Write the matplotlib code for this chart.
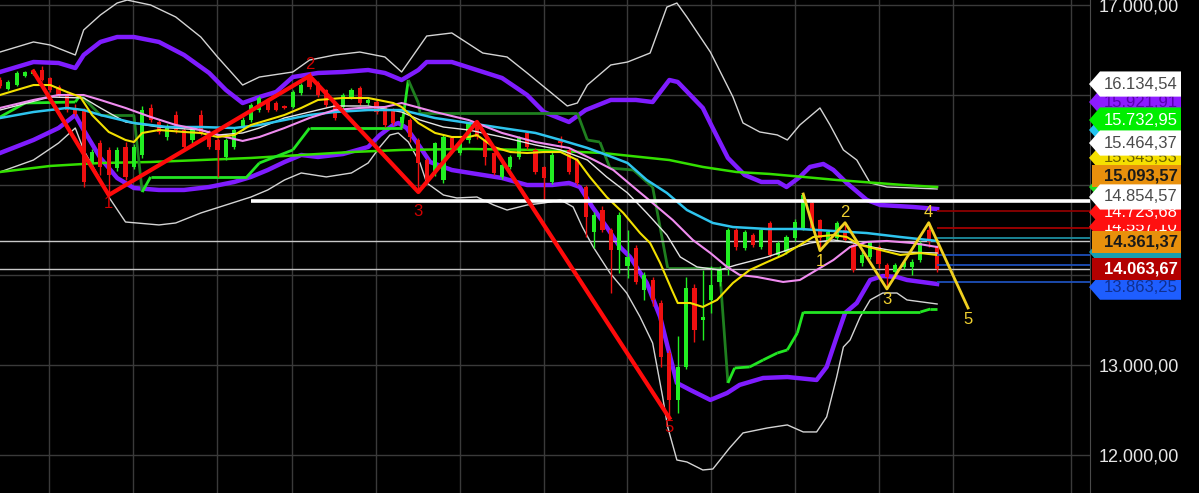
import matplotlib
matplotlib.use("Agg")
import matplotlib.pyplot as plt
import matplotlib.transforms as mtransforms
from matplotlib.patches import Polygon
from matplotlib.collections import LineCollection
from matplotlib.ticker import FuncFormatter

plt.rcParams["font.family"] = ["Liberation Sans", "DejaVu Sans"]

# daily candles, oldest first
opens = [16166, 16070, 16110, 16210, 16235, 16277, 16190, 16090, 16000, 15860,
         15832, 15243, 15465, 15388, 15190, 15420, 15199, 15332, 15855, 15700,
         15532, 15777, 15610, 15499, 15777, 15588, 15499, 15310, 15421, 15632,
         15721, 15832, 15944, 15910, 15877, 15866, 16021, 16210, 16133, 16055,
         15910, 15866, 15977, 16077, 15910, 15922, 15866, 15832, 15690, 15721,
         15499, 15276, 15143, 15054, 15521, 15355, 15499, 15688, 15499, 15355,
         15090, 15199, 15310, 15577, 15388, 15199, 15032, 15490, 15388, 15276,
         14976, 14476, 14720, 14498, 14276, 14100, 14298, 13831, 13942, 13686,
         13130, 12608, 12975, 13853, 13497, 13720, 13920, 14076, 14498, 14298,
         14442, 14309, 14576, 14220, 14253, 14409, 14520, 14798, 14609, 14387,
         14409, 14498, 14331, 14131, 14198, 14309, 14109, 14031, 14087, 14087,
         14164, 14498, 14309]
highs = [16200, 16170, 16265, 16270, 16290, 16320, 16200, 16110, 16020, 15900,
         15850, 15400, 15500, 15420, 15420, 15480, 15450, 15880, 15900, 15720,
         15680, 15820, 15640, 15630, 15830, 15610, 15520, 15520, 15640, 15750,
         15910, 15990, 15970, 15930, 15890, 16050, 16130, 16255, 16150, 16070,
         15930, 16020, 16080, 16100, 15970, 15940, 15880, 15850, 15780, 15740,
         15520, 15300, 15480, 15560, 15540, 15490, 15700, 15700, 15520, 15370,
         15240, 15330, 15540, 15600, 15410, 15210, 15360, 15540, 15410, 15300,
         15000, 14700, 14760, 14520, 14700, 14500, 14330, 14030, 13970, 13720,
         13160, 13320, 13975, 13900, 14053, 14100, 14100, 14520, 14520, 14500,
         14460, 14520, 14600, 14380, 14440, 14620, 14898, 14830, 14620, 14500,
         14600, 14579, 14350, 14260, 14380, 14330, 14130, 14130, 14160, 14170,
         14380, 14579, 14330]
lows = [16080, 16050, 16100, 16200, 16225, 16150, 16030, 15980, 15810, 15770,
        14980, 15200, 15110, 14887, 15150, 15050, 15180, 15300, 15700, 15560,
        15500, 15580, 15390, 15470, 15550, 15400, 15090, 15280, 15400, 15610,
        15700, 15810, 15810, 15820, 15840, 15850, 16000, 16070, 15980, 15870,
        15720, 15850, 15960, 15890, 15890, 15790, 15640, 15660, 15670, 15480,
        14920, 15020, 15100, 15020, 15390, 15330, 15470, 15510, 15220, 15110,
        15070, 15180, 15290, 15400, 15120, 14830, 15010, 15410, 15120, 15000,
        14420, 14300, 14480, 13800, 14020, 13960, 13900, 13720, 13650, 12975,
        12407, 12463, 12950, 13250, 13275, 13580, 13880, 14000, 14280, 14270,
        14310, 14290, 14200, 14200, 14230, 14380, 14500, 14500, 14268, 14370,
        14390, 14370, 14030, 14100, 14180, 14080, 13842, 13980, 14060, 14000,
        14140, 14310, 14030]
closes = [16100, 16145, 16245, 16255, 16265, 16166, 16055, 16000, 15832, 15790,
          15032, 15365, 15199, 15110, 15388, 15090, 15420, 15832, 15721, 15588,
          15643, 15610, 15421, 15610, 15577, 15421, 15388, 15499, 15610, 15721,
          15888, 15966, 15832, 15832, 15855, 16033, 16110, 16088, 15999, 15888,
          15744, 15999, 16055, 15910, 15944, 15810, 15666, 15688, 15760, 15532,
          15243, 15054, 15465, 15532, 15410, 15465, 15688, 15532, 15310, 15132,
          15221, 15310, 15521, 15421, 15143, 15077, 15332, 15470, 15143, 15020,
          14643, 14665, 14498, 14276, 14665, 14200, 13920, 13998, 13720, 13086,
          12608, 12975, 13853, 13386, 13525, 13886, 14053, 14498, 14309, 14476,
          14331, 14498, 14220, 14353, 14420, 14587, 14887, 14520, 14409, 14476,
          14576, 14387, 14053, 14220, 14365, 14120, 13975, 14109, 14142, 14142,
          14353, 14365, 14064]

# bollinger bands (outer, thin white) sampled from the chart: bar index, price
outer_up_x = [0, 4, 6, 9, 10, 12, 14, 15.2, 18, 21, 24, 26, 29, 31, 35, 37, 40, 43, 46, 48,
              51, 54, 57.7, 60.6, 63, 67.8, 69, 70.2, 73, 75, 77.7, 79.7, 80.9, 82.1,
              84.9, 87.6, 88.8, 90.8, 92.9, 94.1, 95.6, 98, 99.2, 100.8, 102.4, 104,
              106, 109.1, 112]
outer_up_y = [16477, 16589, 16555, 16444, 16722, 16889, 17022, 17055, 17000, 16867,
              16644, 16422, 16110, 16199, 16255, 16388, 16444, 16477, 16422, 16255,
              16655, 16689, 16466, 16422, 16244, 15877, 15910, 16110, 16333, 16366,
              16466, 16977, 17022, 16866, 16477, 15977, 15688, 15588, 15555, 15499,
              15666, 15855, 15666, 15388, 15276, 15021, 14976, 14965, 14954]
outer_dn_x = [0, 4, 7, 9, 10, 12, 13, 15, 19, 21, 24, 27, 30, 32, 34, 36, 39, 42, 44,
              45.4, 46.6, 47.6, 48.8, 50.2, 51, 53, 54.6, 57, 59, 60.6, 63, 65, 67,
              68.5, 69.6, 70.9, 72.9, 74.9, 76.5, 78, 79.2, 79.8, 80.9, 82.1, 84,
              85.2, 87.2, 88.8, 91.7, 94.1, 96, 97.6, 98.8, 100, 100.8, 101.6, 102.8,
              104, 105.5, 107.2, 108.4, 112]
outer_dn_y = [15143, 15276, 15465, 15632, 15388, 15054, 14865, 14587, 14554, 14576,
              14687, 14776, 14865, 14943, 15054, 15132, 15088, 15132, 15243, 15421,
              15554, 15577, 15477, 15243, 15021, 14887, 14854, 14865, 14776, 14720,
              14776, 14798, 14832, 14754, 14531, 14309, 14020, 13797, 13531, 13241,
              12641, 12307, 11940, 11918, 11829, 11840, 12074, 12241, 12296, 12330,
              12252, 12252, 12419, 12863, 13197, 13275, 13531, 13720, 13797, 13797,
              13720, 13675]

# inner bands (thick purple)
inner_up_x = [0, 4, 7, 9, 10, 12, 14, 16, 19, 22, 25, 27, 29, 31, 33, 35, 38, 41, 44,
              46, 48, 50, 51, 54, 57, 60, 63, 65, 68, 70, 73, 76, 78, 80, 81, 84, 85,
              87, 89, 91, 93, 94, 95.6, 96.8, 98.4, 99.6, 101.2, 103.6, 105.2, 109.1,
              112]
inner_up_y = [16255, 16366, 16355, 16299, 16444, 16589, 16644, 16644, 16589, 16444,
              16244, 16055, 15910, 15977, 16033, 16199, 16244, 16255, 16277, 16244,
              16166, 16277, 16366, 16366, 16277, 16188, 15999, 15810, 15699, 15832,
              15944, 15944, 15921, 16166, 16144, 15855, 15666, 15299, 15110, 15032,
              15032, 14976, 15088, 15199, 15232, 15166, 15021, 14832, 14776, 14754,
              14731]
inner_dn_x = [0, 4, 7, 9, 10, 12, 14, 16, 19, 22, 25, 28, 30, 32, 34, 36, 38, 41, 44,
              45.4, 47, 47.6, 48.6, 50.2, 51.4, 54, 56.2, 60, 63, 66, 68, 69.3, 70.8,
              72.5, 74.1, 75.3, 77.3, 78.9, 79.8, 80.9, 82.5, 84.9, 86.9, 88.4, 91.2,
              94.1, 97.6, 98.8, 100, 101, 102.4, 104, 105.5, 107.2, 108.4, 112]
inner_dn_y = [15354, 15499, 15632, 15777, 15610, 15299, 15076, 14965, 14943, 14943,
              14976, 15032, 15088, 15165, 15254, 15332, 15310, 15343, 15421, 15554,
              15666, 15688, 15632, 15421, 15254, 15165, 15132, 15076, 14998, 14998,
              15021, 14976, 14754, 14531, 14309, 14198, 13909, 13531, 13197, 12797,
              12719, 12608, 12685, 12775, 12852, 12863, 12830, 12975, 13308, 13575,
              13686, 13942, 13986, 13975, 13942, 13897]

# moving averages
ma_yellow_x = [0, 2, 4, 6, 8, 9.6, 11, 13, 15, 16, 17, 19, 22, 24, 26, 28, 30, 32, 34,
               36, 38, 41, 44, 47, 48, 50, 52, 54, 56, 57, 59, 61, 63, 65, 67, 69,
               70.5, 72.5, 74.5, 76.5, 77.7, 78.9, 80.3, 81, 82.5, 84, 85.7, 87.6,
               89.6, 91.7, 93.6, 95.6, 97.2, 99.6, 101.2, 102.8, 105.2, 107.6, 110, 112]
ma_yellow_y = [15999, 16055, 16110, 16110, 16033, 15977, 15777, 15588, 15499, 15476,
               15577, 15610, 15588, 15577, 15532, 15554, 15666, 15721, 15777, 15855,
               15944, 15966, 15966, 15910, 15866, 15688, 15577, 15532, 15532, 15554,
               15421, 15365, 15354, 15365, 15365, 15276, 15088, 14865, 14687, 14464,
               14353, 14131, 13831, 13686, 13686, 13642, 13720, 13909, 14053, 14142,
               14220, 14331, 14420, 14442, 14420, 14331, 14276, 14220, 14242, 14220]
ma_pink_x = [0, 4, 7, 10, 12, 15, 18, 21, 24, 27, 29, 31, 34, 37, 40, 43, 46, 48, 52,
             56, 60, 64, 68, 71, 73.3, 75.7, 78, 80.4, 82.8, 84.9, 86.9, 88.4, 90.5,
             93.6, 95.6, 97.6, 99.6, 101.6, 103.6, 106, 109.1, 112]
ma_pink_y = [15855, 15944, 15999, 15999, 15944, 15855, 15755, 15666, 15610, 15532,
             15488, 15532, 15632, 15744, 15832, 15855, 15866, 15910, 15810, 15721,
             15577, 15476, 15410, 15276, 15165, 14976, 14798, 14609, 14387, 14242,
             14087, 13998, 13975, 13920, 13942, 14053, 14164, 14309, 14365, 14376,
             14353, 14309]
ma_cyan_x = [0, 4, 8, 10, 12, 16, 20, 24, 28, 31, 34, 37, 40, 44, 48, 52, 56, 60, 64,
             67, 70.2, 72.5, 75, 77.3, 79.7, 82.1, 85.2, 87.6, 91.7, 95.6, 99.6,
             103.6, 107.6, 112]
ma_cyan_y = [15743, 15810, 15855, 15832, 15777, 15688, 15643, 15643, 15632, 15666,
             15721, 15777, 15810, 15832, 15832, 15743, 15688, 15632, 15577, 15499,
             15410, 15332, 15243, 15054, 14910, 14720, 14576, 14531, 14509, 14509,
             14487, 14464, 14420, 14376]
ma_white_x = [0, 6, 10, 12, 15, 19, 24, 26, 29, 31, 34, 37, 40, 44, 48, 50.2, 53, 56,
              60, 64, 67, 70.2, 72.5, 75, 77.3, 79.7, 81.3, 83.3, 86, 88, 91.7, 94.8,
              96.8, 99.6, 102, 104.8, 107.6, 112]
ma_white_y = [15832, 15977, 15966, 15855, 15699, 15643, 15610, 15554, 15577, 15632,
              15744, 15810, 15877, 15877, 15810, 15721, 15643, 15610, 15532, 15443,
              15388, 15276, 15088, 14910, 14687, 14442, 14198, 14087, 14053, 14109,
              14198, 14298, 14353, 14387, 14353, 14298, 14254, 14242]
ma_long_x = [0, 6, 12, 18, 24, 30, 36, 42, 48, 56, 64, 72, 80, 84, 88, 92, 96, 100, 108, 112]
ma_long_y = [15143, 15210, 15243, 15254, 15276, 15299, 15332, 15365, 15388, 15399,
             15388, 15354, 15276, 15199, 15143, 15121, 15088, 15054, 14998, 14976]

# trailing stop line, bright green while rising and dark green while falling
stop_x = [0, 3, 9, 9.6, 12, 16, 17, 18, 29.5, 31, 35, 37, 48, 48.8, 50, 50.2, 69, 70.2,
          71.7, 72.9, 75.7, 77.3, 78, 79.8, 86, 87, 87.8, 89.6, 91.2, 92.9, 94.1, 95.3,
          96, 110, 111.2, 112]
stop_y = [15754, 15910, 15921, 15999, 15777, 15777, 14920, 15088, 15088, 15243, 15388,
          15632, 15632, 16166, 15910, 15799, 15799, 15499, 15476, 15187, 15165, 15032,
          14976, 14075, 14075, 12797, 12963, 12975, 13052, 13130, 13164, 13353, 13586,
          13586, 13619, 13619]
stop_up = [1, 1, 1, 0, 0, 0, 1, 1, 1, 1, 1, 1, 1, 0, 0, 0, 0, 0, 0, 0, 0, 0, 0, 0, 0,
           1, 1, 1, 1, 1, 1, 1, 1, 1, 1]

# elliott wave counts (red label 4 is not shown on the chart)
red_wave_x = [4, 13, 37, 50, 57, 80]
red_wave_y = [16260, 14887, 16211, 14920, 15700, 12407]
red_lbl_y = [None, 14798, 16333, 14698, None, 12296]
yel_wave_x = [96, 98, 101, 106, 111, 115.7]
yel_wave_y = [14898, 14268, 14579, 13842, 14579, 13631]
yel_lbl_y = [None, 14142, 14687, 13720, 14687, 13497]

# horizontal levels
support_level = 14825
support_from = 30
thin_levels = [14376, 14064]
right_levels = [14709, 14520, 14409, 14220, 14109, 13920]
right_colors = ["#8b0000", "#a30000", "#1c8ea0", "#1d4fb8", "#1d4fb8", "#1d4fb8"]

# price tags on the right axis, bottom layer first (empty text = tag hidden under others)
tag_prices = [15921, 15610, 15300, 14976, 14535, 14695, 14253, 13862,
              16121, 15721, 15465, 15098, 14865, 14365, 14064]
tag_texts = ["15.921,91", "", "15.345,53", "", "14.557,10",
             "14.723,68", "", "13.863,25", "16.134,54", "15.732,95",
             "15.464,37", "15.093,57", "14.854,57", "14.361,37", "14.063,67"]
tag_fills = ["#8c1cff", "#22c4f0", "#f5e000", "#22dd22", "#ff1010", "#ff1010",
             "#1a9fb0", "#1e5eff", "#ffffff", "#00ee00", "#ffffff", "#e8900c",
             "#ffffff", "#e8900c", "#b30000"]
tag_inks = ["#5a00b0", "#10607a", "#6b6000", "#0a6a0a", "#ffffff", "#ffffff",
            "#0a5060", "#103090", "#4a4a4a", "#ffffff", "#4a4a4a", "#1a1a1a",
            "#4a4a4a", "#1a1a1a", "#ffffff"]
tag_boxed = [0, 0, 0, 0, 0, 0, 0, 0, 0, 0, 0, 1, 0, 1, 1]

grid_bars = [5.9, 15.9, 25.9, 34.9, 44.9, 55, 65, 74.9, 85, 95, 105, 113.9, 128]

W, H = 1199, 493
AX_W = 1090
fig = plt.figure(figsize=(W / 100, H / 100), dpi=100, facecolor="black")
ax = fig.add_axes([0, 0, AX_W / W, 1])
ax.set_facecolor("black")
ax.set_xlim(0, AX_W / 8.367)
ax.set_ylim(11573, 17055.6)

ax.set_xticks(grid_bars)
ax.set_yticks([12000, 13000, 14000, 15000, 16000, 17000])
ax.grid(True, color="#3a3a3a", lw=1)
ax.tick_params(axis="x", length=0, labelbottom=False)
ax.yaxis.tick_right()
ax.tick_params(axis="y", length=0, pad=6, labelsize=13, colors="#e6e6e6")
ax.yaxis.set_major_formatter(FuncFormatter(
    lambda v, _: f"{v:,.2f}".replace(",", "X").replace(".", ",").replace("X", ".")))
for side in ["top", "bottom", "left"]:
    ax.spines[side].set_visible(False)
ax.spines["right"].set_color("#4a4a4a")

# bands and averages
ax.plot(outer_up_x, outer_up_y, color="#d4d4d4", lw=1, zorder=2)
ax.plot(outer_dn_x, outer_dn_y, color="#d4d4d4", lw=1, zorder=2)
ax.plot(inner_up_x, inner_up_y, color="#7f1cff", lw=3.2, zorder=2)
ax.plot(inner_dn_x, inner_dn_y, color="#7f1cff", lw=3.2, zorder=2)
ax.plot(ma_long_x, ma_long_y, color="#33e000", lw=1.8, zorder=2)
pts = list(zip(stop_x, stop_y))
segs = [[pts[i], pts[i + 1]] for i in range(len(pts) - 1)]
ax.add_collection(LineCollection(
    segs, colors=["#22e622" if u else "#1f7f1f" for u in stop_up], linewidths=2, zorder=2))

for lv in thin_levels:
    ax.axhline(lv, color="#c8c8c8", lw=1, zorder=2)

# candles
n = len(closes)
bars = list(range(n))
cols = ["#22ee22" if c >= o else "#ee1010" for o, c in zip(opens, closes)]
ax.vlines(bars, lows, highs, colors=cols, lw=1, zorder=3)
ax.bar(bars, [max(abs(c - o), 12) for o, c in zip(opens, closes)], width=0.5,
       bottom=[min(o, c) for o, c in zip(opens, closes)], color=cols, lw=0, zorder=3)

ax.plot(ma_white_x, ma_white_y, color="#e4e4e4", lw=1, zorder=4)
ax.plot(ma_cyan_x, ma_cyan_y, color="#2ec4ee", lw=1.8, zorder=4)
ax.plot(ma_pink_x, ma_pink_y, color="#f08cf0", lw=1.5, zorder=4)
ax.plot(ma_yellow_x, ma_yellow_y, color="#f2e000", lw=1.5, zorder=4)

xmax = ax.get_xlim()[1]
ax.hlines(support_level, support_from, xmax, color="white", lw=2.6, zorder=4)
ax.hlines(right_levels, n - 1, xmax, colors=right_colors, lw=1.3, zorder=4)

# wave counts
ax.plot(red_wave_x, red_wave_y, color="#ff0a0a", lw=3, zorder=5)
for i, (x, ly) in enumerate(zip(red_wave_x, red_lbl_y)):
    if ly is not None:
        ax.text(x, ly, str(i), color="#d00000", fontsize=12, ha="center", va="center",
                zorder=3)
ax.plot(yel_wave_x, yel_wave_y, color="#f0d020", lw=2, zorder=5, clip_on=False)
for i, (x, ly) in enumerate(zip(yel_wave_x, yel_lbl_y)):
    if ly is not None:
        ax.text(x, ly, str(i), color="#f0d030", fontsize=12, ha="center", va="center",
                zorder=5)

# price tags
blend = mtransforms.blended_transform_factory(ax.transAxes, ax.transData)
for k, (p, t, fc, ink, boxed) in enumerate(zip(tag_prices, tag_texts, tag_fills,
                                               tag_inks, tag_boxed)):
    xr = 1181 / AX_W
    if boxed:
        half = 122
        xs = [1092 / AX_W, xr, xr, 1092 / AX_W]
        ys = [p + half, p + half, p - half, p - half]
    else:
        half = 140
        xs = [1089 / AX_W, 1100 / AX_W, xr, xr, 1100 / AX_W]
        ys = [p, p + half, p + half, p - half, p - half]
    ax.add_patch(Polygon(list(zip(xs, ys)), closed=True, transform=blend, fc=fc,
                         ec="none", clip_on=False, zorder=10 + 2 * k))
    if t:
        ax.text(1141 / AX_W, p, t, transform=blend, ha="center", va="center",
                fontsize=12, color=ink, fontweight="bold" if boxed else "normal",
                clip_on=False, zorder=11 + 2 * k)

fig.savefig("out.png", dpi=100, facecolor="black")
